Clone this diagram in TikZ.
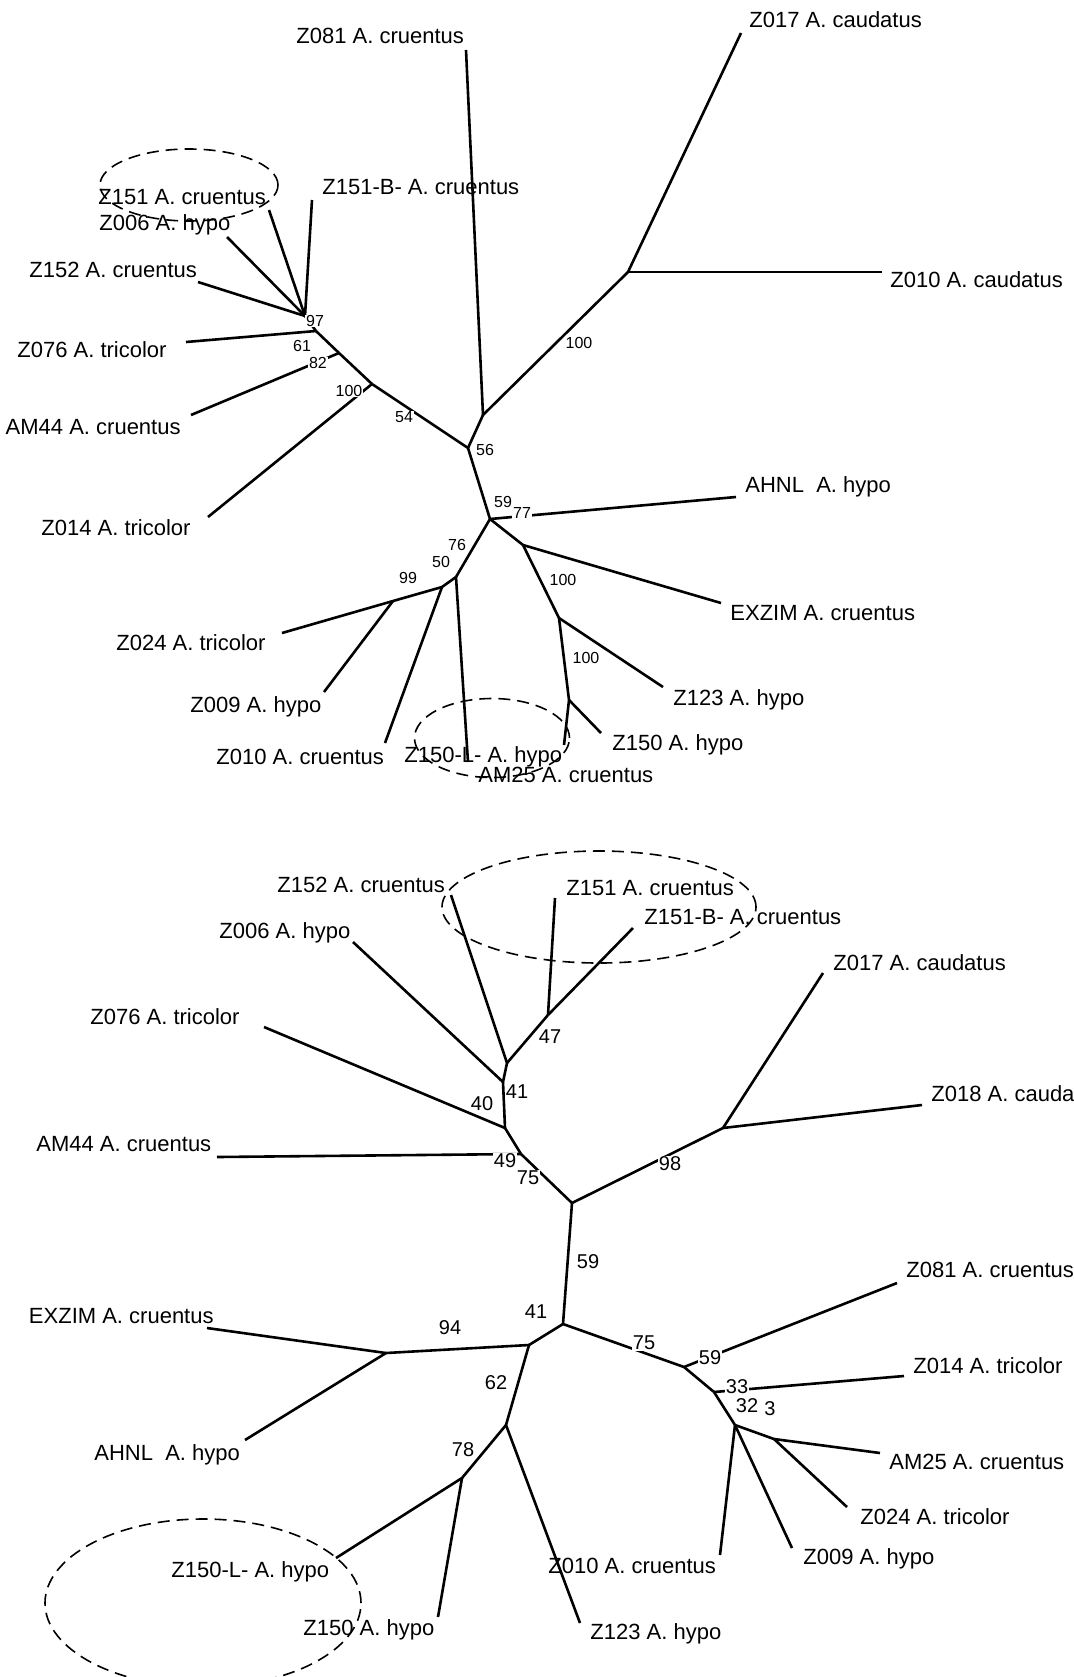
\documentclass[tikz,border=0pt]{standalone}
\usepackage{fontspec}
\setmainfont{Liberation Sans}
\usetikzlibrary{shapes.geometric, positioning}

\begin{document}
\begin{tikzpicture}[x=0.5pt, y=-0.5pt,
    taxon/.style={anchor=west, inner sep=0pt, text depth=0pt, font=\fontsize{11}{13}\selectfont},
    taxonr/.style={taxon, anchor=east},
    support/.style={inner sep=0.4pt, fill=white, font=\fontsize{8}{9}\selectfont},
    bigsupport/.style={support, font=\fontsize{10}{12}\selectfont},
    branch/.style={line width=1.3pt},
    clade/.style={draw, ellipse, inner sep=0pt, line width=0.8pt, dash pattern=on 6pt off 3.5pt}]
    \useasboundingbox (0,0) rectangle (1073,1677);

    \node[clade, minimum width=89pt, minimum height=36pt] (agroupa) at (189,185) {};
    \node[clade, minimum width=77.5pt, minimum height=39.5pt] (agroupb) at (492,738) {};
    \node[clade, minimum width=157pt, minimum height=56pt] (bgroupa) at (599,907) {};
    \node[clade, minimum width=158pt, minimum height=84pt] (bgroupb) at (203,1603) {};

    \coordinate (acaud) at (628,272);
    \coordinate (aroot) at (483,415);
    \coordinate (a56) at (468,448);
    \coordinate (a100) at (372,384);
    \coordinate (a82) at (339,353);
    \coordinate (a61) at (316,331);
    \coordinate (a97) at (305,316);
    \coordinate (a59) at (490,519);
    \coordinate (aex) at (523,545);
    \coordinate (a100b) at (559,618);
    \coordinate (az150) at (569,700);
    \coordinate (a50) at (456,577);
    \coordinate (a99) at (442,587);
    \coordinate (az24) at (393,601);

    \coordinate (aZ017e) at (741,33);
    \coordinate (aZ010ce) at (882,272);
    \coordinate (aZ081e) at (466,50);
    \coordinate (aZ151e) at (269,210);
    \coordinate (aZ151Be) at (312,200);
    \coordinate (aZ006e) at (227,237);
    \coordinate (aZ152e) at (198,282);
    \coordinate (aZ076e) at (186,342);
    \coordinate (aAM44e) at (191,415);
    \coordinate (aZ014e) at (208,517);
    \coordinate (aAHNLe) at (736,497);
    \coordinate (aEXZIMe) at (721,603);
    \coordinate (aZ123e) at (663,687);
    \coordinate (aZ150e) at (601,733);
    \coordinate (aAM25e) at (564,745);
    \coordinate (aZ150Le) at (468,762);
    \coordinate (aZ010e) at (385,743);
    \coordinate (aZ024e) at (282,633);
    \coordinate (aZ009e) at (324,692);

    \draw[branch] (acaud) -- (aZ017e);
    \draw[branch] (acaud) -- (aZ010ce);
    \draw[branch] (acaud) -- (aroot);
    \draw[branch] (aroot) -- (aZ081e);
    \draw[branch] (aroot) -- (a56);
    \draw[branch] (a56) -- (a100);
    \draw[branch] (a100) -- (a82);
    \draw[branch] (a82) -- (a61);
    \draw[branch] (a61) -- (a97);
    \draw[branch] (a97) -- (aZ151e);
    \draw[branch] (a97) -- (aZ151Be);
    \draw[branch] (a97) -- (aZ006e);
    \draw[branch] (a97) -- (aZ152e);
    \draw[branch] (a61) -- (aZ076e);
    \draw[branch] (a82) -- (aAM44e);
    \draw[branch] (a100) -- (aZ014e);
    \draw[branch] (a56) -- (a59);
    \draw[branch] (a59) -- (aAHNLe);
    \draw[branch] (a59) -- (aex);
    \draw[branch] (aex) -- (aEXZIMe);
    \draw[branch] (aex) -- (a100b);
    \draw[branch] (a100b) -- (aZ123e);
    \draw[branch] (a100b) -- (az150);
    \draw[branch] (az150) -- (aZ150e);
    \draw[branch] (az150) -- (aAM25e);
    \draw[branch] (a59) -- (a50);
    \draw[branch] (a50) -- (aZ150Le);
    \draw[branch] (a50) -- (a99);
    \draw[branch] (a99) -- (aZ010e);
    \draw[branch] (a99) -- (az24);
    \draw[branch] (az24) -- (aZ024e);
    \draw[branch] (az24) -- (aZ009e);

    \node[taxon] (aZ081) at (296,36) {Z081 A. cruentus};
    \node[taxon] (aZ017) at (749,20) {Z017 A. caudatus};
    \node[taxon] (aZ151) at (98,197) {Z151 A. cruentus};
    \node[taxon] (aZ151B) at (322,187) {Z151-B- A. cruentus};
    \node[taxon] (aZ006) at (99,223) {Z006 A. hypo};
    \node[taxon] (aZ152) at (29,270) {Z152 A. cruentus};
    \node[taxon] (aZ010c) at (890,280) {Z010 A. caudatus};
    \node[taxon] (aZ076) at (17,350) {Z076 A. tricolor};
    \node[taxonr] (aAM44) at (181,427) {AM44 A. cruentus};
    \node[taxon] (aZ014) at (41,528) {Z014 A. tricolor};
    \node[taxon] (aAHNL) at (745,485) {AHNL\ \ A. hypo};
    \node[taxon] (aEXZIM) at (730,613) {EXZIM A. cruentus};
    \node[taxon] (aZ024) at (116,643) {Z024 A. tricolor};
    \node[taxon] (aZ123) at (673,698) {Z123 A. hypo};
    \node[taxon] (aZ009) at (190,705) {Z009 A. hypo};
    \node[taxon] (aZ150) at (612,743) {Z150 A. hypo};
    \node[taxon] (aZ010) at (216,757) {Z010 A. cruentus};
    \node[taxon] (aZ150L) at (404,755) {Z150-L- A. hypo};
    \node[taxon] (aAM25) at (478,775) {AM25 A. cruentus};

    \node[support] (ab100c) at (579,343) {100};
    \node[support] (ab97) at (315,321) {97};
    \node[support] (ab61) at (302,346) {61};
    \node[support] (ab82) at (318,363) {82};
    \node[support] (ab100) at (349,391) {100};
    \node[support] (ab54) at (404,417) {54};
    \node[support] (ab56) at (485,450) {56};
    \node[support] (ab59) at (503,502) {59};
    \node[support] (ab77) at (522,513) {77};
    \node[support] (ab76) at (457,545) {76};
    \node[support] (ab50) at (441,562) {50};
    \node[support] (ab99) at (408,578) {99};
    \node[support] (ab100e) at (563,580) {100};
    \node[support] (ab100z) at (586,658) {100};

    \coordinate (b47) at (548,1015);
    \coordinate (bx) at (507,1063);
    \coordinate (b41) at (503,1082);
    \coordinate (b40) at (505,1128);
    \coordinate (b49) at (521,1154);
    \coordinate (broot) at (572,1203);
    \coordinate (b98) at (723,1128);
    \coordinate (b41b) at (563,1324);
    \coordinate (bsplit) at (529,1345);
    \coordinate (b94) at (386,1353);
    \coordinate (b62) at (506,1425);
    \coordinate (b78) at (462,1478);
    \coordinate (b59) at (684,1367);
    \coordinate (b33) at (714,1392);
    \coordinate (b32) at (735,1425);
    \coordinate (bam25) at (774,1439);

    \coordinate (bZ152e) at (451,895);
    \coordinate (bZ151e) at (555,898);
    \coordinate (bZ151Be) at (633,928);
    \coordinate (bZ006e) at (353,942);
    \coordinate (bZ076e) at (264,1027);
    \coordinate (bAM44e) at (217,1157);
    \coordinate (bZ017e) at (823,973);
    \coordinate (bZ018e) at (922,1105);
    \coordinate (bEXZIMe) at (207,1328);
    \coordinate (bAHNLe) at (245,1440);
    \coordinate (bZ150Le) at (336,1558);
    \coordinate (bZ150e) at (438,1617);
    \coordinate (bZ123e) at (580,1623);
    \coordinate (bZ081e) at (897,1283);
    \coordinate (bZ014e) at (904,1376);
    \coordinate (bAM25e) at (880,1453);
    \coordinate (bZ024e) at (847,1507);
    \coordinate (bZ009e) at (792,1548);
    \coordinate (bZ010e) at (720,1555);

    \draw[branch] (b47) -- (bZ151e);
    \draw[branch] (b47) -- (bZ151Be);
    \draw[branch] (bx) -- (b47);
    \draw[branch] (bx) -- (bZ152e);
    \draw[branch] (b41) -- (bx);
    \draw[branch] (b41) -- (bZ006e);
    \draw[branch] (b40) -- (b41);
    \draw[branch] (b40) -- (bZ076e);
    \draw[branch] (b49) -- (b40);
    \draw[branch] (b49) -- (bAM44e);
    \draw[branch] (broot) -- (b49);
    \draw[branch] (broot) -- (b98);
    \draw[branch] (b98) -- (bZ017e);
    \draw[branch] (b98) -- (bZ018e);
    \draw[branch] (broot) -- (b41b);
    \draw[branch] (b41b) -- (bsplit);
    \draw[branch] (bsplit) -- (b94);
    \draw[branch] (b94) -- (bEXZIMe);
    \draw[branch] (b94) -- (bAHNLe);
    \draw[branch] (bsplit) -- (b62);
    \draw[branch] (b62) -- (b78);
    \draw[branch] (b78) -- (bZ150Le);
    \draw[branch] (b78) -- (bZ150e);
    \draw[branch] (b62) -- (bZ123e);
    \draw[branch] (b41b) -- (b59);
    \draw[branch] (b59) -- (bZ081e);
    \draw[branch] (b59) -- (b33);
    \draw[branch] (b33) -- (bZ014e);
    \draw[branch] (b33) -- (b32);
    \draw[branch] (b32) -- (bZ010e);
    \draw[branch] (b32) -- (bZ009e);
    \draw[branch] (b32) -- (bam25);
    \draw[branch] (bam25) -- (bAM25e);
    \draw[branch] (bam25) -- (bZ024e);

    \node[taxon] (bZ152) at (277,885) {Z152 A. cruentus};
    \node[taxon] (bZ151) at (566,888) {Z151 A. cruentus};
    \node[taxon] (bZ151B) at (644,917) {Z151-B- A. cruentus};
    \node[taxon] (bZ006) at (219,931) {Z006 A. hypo};
    \node[taxon] (bZ017) at (833,963) {Z017 A. caudatus};
    \node[taxon] (bZ076) at (90,1017) {Z076 A. tricolor};
    \node[taxon] (bZ018) at (931,1094) {Z018 A. caudatus};
    \node[taxon] (bAM44) at (36,1144) {AM44 A. cruentus};
    \node[taxonr] (bEXZIM) at (214,1316) {EXZIM A. cruentus};
    \node[taxon] (bZ081) at (906,1270) {Z081 A. cruentus};
    \node[taxon] (bZ014) at (913,1366) {Z014 A. tricolor};
    \node[taxon] (bAHNL) at (94,1453) {AHNL\ \ A. hypo};
    \node[taxon] (bAM25) at (889,1462) {AM25 A. cruentus};
    \node[taxon] (bZ024) at (860,1517) {Z024 A. tricolor};
    \node[taxon] (bZ009) at (803,1557) {Z009 A. hypo};
    \node[taxon] (bZ010) at (548,1566) {Z010 A. cruentus};
    \node[taxon] (bZ150L) at (171,1570) {Z150-L- A. hypo};
    \node[taxon] (bZ150) at (303,1628) {Z150 A. hypo};
    \node[taxon] (bZ123) at (590,1632) {Z123 A. hypo};

    \node[bigsupport] (bb47) at (550,1037) {47};
    \node[bigsupport] (bb41) at (517,1092) {41};
    \node[bigsupport] (bb40) at (482,1104) {40};
    \node[bigsupport] (bb49) at (505,1161) {49};
    \node[bigsupport] (bb75) at (528,1178) {75};
    \node[bigsupport] (bb98) at (670,1164) {98};
    \node[bigsupport] (bb59) at (588,1262) {59};
    \node[bigsupport] (bb41b) at (536,1312) {41};
    \node[bigsupport] (bb94) at (450,1328) {94};
    \node[bigsupport] (bb62) at (496,1383) {62};
    \node[bigsupport] (bb78) at (463,1450) {78};
    \node[bigsupport] (bb75b) at (644,1343) {75};
    \node[bigsupport] (bb59b) at (710,1358) {59};
    \node[bigsupport] (bb33) at (737,1387) {33};
    \node[bigsupport] (bb32) at (747,1406) {32};
    \node[bigsupport] (bb3) at (770,1409) {3};
\end{tikzpicture}
\end{document}
